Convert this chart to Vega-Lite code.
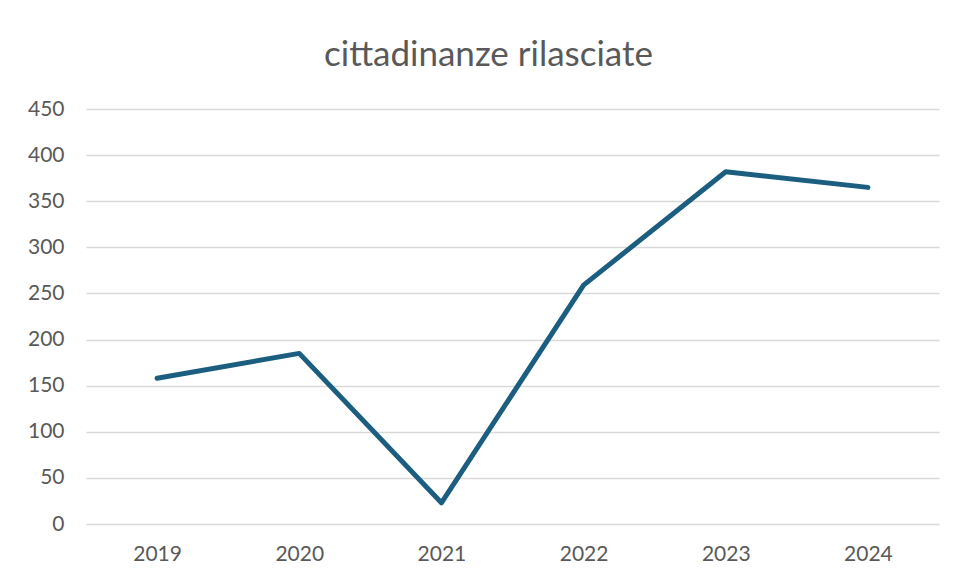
{
  "$schema": "https://vega.github.io/schema/vega-lite/v6.json",
  "width": 853,
  "height": 415,
  "autosize": {"type": "none"},
  "padding": {"left": 86, "top": 109, "right": 18, "bottom": 55},
  "background": "white",
  "config": {
    "view": {"stroke": null},
    "font": "Lato"
  },
  "title": {
    "text": "cittadinanze rilasciate",
    "fontSize": 35,
    "font": "Lato",
    "fontWeight": "normal",
    "color": "#595959",
    "anchor": "middle",
    "frame": "group",
    "dx": -24,
    "offset": 25
  },
  "data": {
    "values": [
      {"anno": "2019", "valore": 158},
      {"anno": "2020", "valore": 185},
      {"anno": "2021", "valore": 23},
      {"anno": "2022", "valore": 259},
      {"anno": "2023", "valore": 382},
      {"anno": "2024", "valore": 365}
    ]
  },
  "mark": {"type": "line", "color": "#1b5e7f", "strokeWidth": 5, "strokeCap": "round", "strokeJoin": "round"},
  "encoding": {
    "x": {
      "field": "anno",
      "type": "ordinal",
      "scale": {"type": "point", "padding": 0.5},
      "axis": {
        "title": null,
        "labelAngle": 0,
        "ticks": false,
        "domain": false,
        "grid": false,
        "labelFontSize": 21,
        "labelColor": "#595959",
        "labelPadding": 19
      }
    },
    "y": {
      "field": "valore",
      "type": "quantitative",
      "scale": {"domain": [0, 450], "nice": false},
      "axis": {
        "title": null,
        "values": [0, 50, 100, 150, 200, 250, 300, 350, 400, 450],
        "ticks": false,
        "domain": false,
        "grid": true,
        "gridColor": "#d9d9d9",
        "gridWidth": 1.5,
        "labelFontSize": 21,
        "labelColor": "#595959",
        "labelPadding": 22
      }
    }
  }
}
